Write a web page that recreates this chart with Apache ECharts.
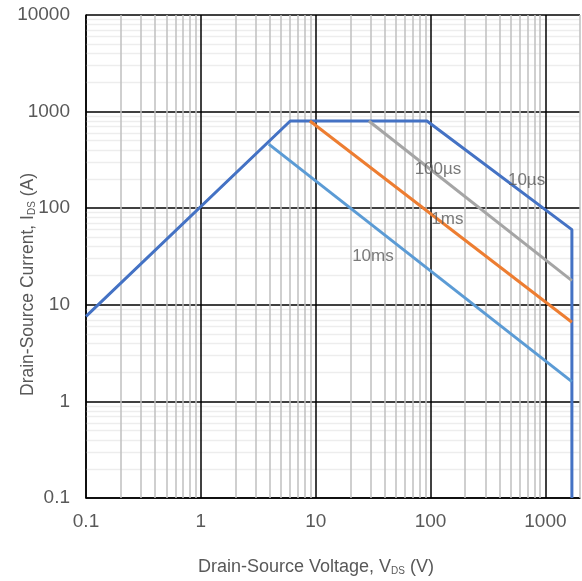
<!DOCTYPE html>
<html>
<head>
<meta charset="utf-8">
<script src="https://cdn.jsdelivr.net/npm/echarts@6/dist/echarts.min.js"></script>
<style>html,body{margin:0;padding:0;background:#fff}#c{width:582px;height:581px}</style>
</head>
<body>
<div id="c"></div>
<script>
// ---- data (V_DS in V, I_DS in A) ----
const seriesNames = ['10µs', '100µs', '1ms', '10ms'];
const sweep10us  = [[0.1, 7.6], [6, 800], [93, 800], [1700, 60], [1700, 0.1]];
const sweep100us = [[29, 800], [1700, 17.8]];
const sweep1ms   = [[8.9, 800], [1700, 6.6]];
const sweep10ms  = [[3.9, 460], [1700, 1.6]];
const xTickLabels = ['0.1', '1', '10', '100', '1000'];
const yTickLabels = ['0.1', '1', '10', '100', '1000', '10000'];
// label anchors (data coords) for series annotations
const labelAnchors = [[685, 196], [116, 255], [140, 76], [31.5, 32]];

const colors = ['#4472C4', '#A5A5A5', '#ED7D31', '#5B9BD5'];
const font = 'Liberation Sans';
const textColor = '#595959';

// gridline positions
function minors(lo, hi) {
  const out = [];
  for (let d = lo; d < hi; d *= 10) for (let k = 2; k <= 9; k++) out.push(+(d * k).toPrecision(6));
  return out;
}
const xMinor = minors(0.1, 1000).concat([2000]);
const yMinor = minors(0.1, 10000);
const xMajor = xTickLabels.map(Number);
const yMajor = yTickLabels.map(Number);

function fmt(list) {
  return function (v) {
    const s = String(+Number(v).toPrecision(6));
    return list.indexOf(s) >= 0 ? s : '';
  };
}

function gridSeries(values, dim, color, width, z) {
  return {
    type: 'line', data: [], silent: true, z: z,
    markLine: {
      silent: true, symbol: 'none', animation: false, label: { show: false },
      lineStyle: { color: color, width: width, type: 'solid' },
      emphasis: { disabled: true },
      data: values.map(v => ({ [dim]: v }))
    }
  };
}

const chart = echarts.init(document.getElementById('c'), null, { renderer: 'canvas' });
const datasets = [sweep10us, sweep100us, sweep1ms, sweep10ms];
const series = [
  gridSeries(yMinor, 'yAxis', '#EDEDED', 1.3, 1),
  gridSeries(yMajor, 'yAxis', '#000000', 1.5, 2),
  gridSeries(xMinor, 'xAxis', '#BFBFBF', 1.5, 3),
  gridSeries(xMajor, 'xAxis', '#000000', 1.5, 4)
];
datasets.forEach((d, i) => {
  series.push({
    name: seriesNames[i], type: 'line', data: d, showSymbol: false, symbol: 'none',
    lineStyle: { color: colors[i], width: 3 }, z: 10 + i, animation: false
  });
});
series.push({
  type: 'scatter', symbolSize: 0, z: 20, silent: true, animation: false,
  data: labelAnchors.map((p, i) => ({ value: p, name: seriesNames[i] })),
  label: {
    show: true, position: 'inside', formatter: '{b}',
    color: textColor, fontFamily: font, fontSize: 17
  }
});

const subStyle = { fontSize: 10, verticalAlign: 'bottom', padding: [8, 0, 0, 0], color: textColor, fontFamily: font };

chart.setOption({
  animation: false,
  grid: { left: 86, right: 2, top: 15, bottom: 83, containLabel: false, outerBoundsMode: 'none' },
  xAxis: {
    type: 'log', logBase: 10, min: 0.1, max: 2000,
    name: 'Drain-Source Voltage, V{sub|DS} (V)', nameLocation: 'middle', nameGap: 60,
    nameTextStyle: {
      color: textColor, fontFamily: font, fontSize: 18, padding: [0, 34, 0, 0],
      rich: { sub: subStyle }
    },
    axisLine: { show: true, lineStyle: { color: '#000', width: 1.5 } },
    axisTick: { show: false },
    axisLabel: { color: textColor, fontFamily: font, fontSize: 19, margin: 14, formatter: fmt(xTickLabels) },
    splitLine: { show: false },
    minorTick: { show: false }, minorSplitLine: { show: false }
  },
  yAxis: {
    type: 'log', logBase: 10, min: 0.1, max: 10000,
    name: 'Drain-Source Current, I{sub|DS} (A)', nameLocation: 'middle', nameGap: 49,
    nameMoveOverlap: false,
    nameTextStyle: {
      color: textColor, fontFamily: font, fontSize: 17.5, padding: [0, 56, 0, 0],
      rich: { sub: subStyle }
    },
    axisLine: { show: true, lineStyle: { color: '#000', width: 1.5 } },
    axisTick: { show: false },
    axisLabel: { color: textColor, fontFamily: font, fontSize: 19, margin: 16, formatter: fmt(yTickLabels) },
    splitLine: { show: false },
    minorTick: { show: false }, minorSplitLine: { show: false }
  },
  series: series
});
</script>
</body>
</html>
